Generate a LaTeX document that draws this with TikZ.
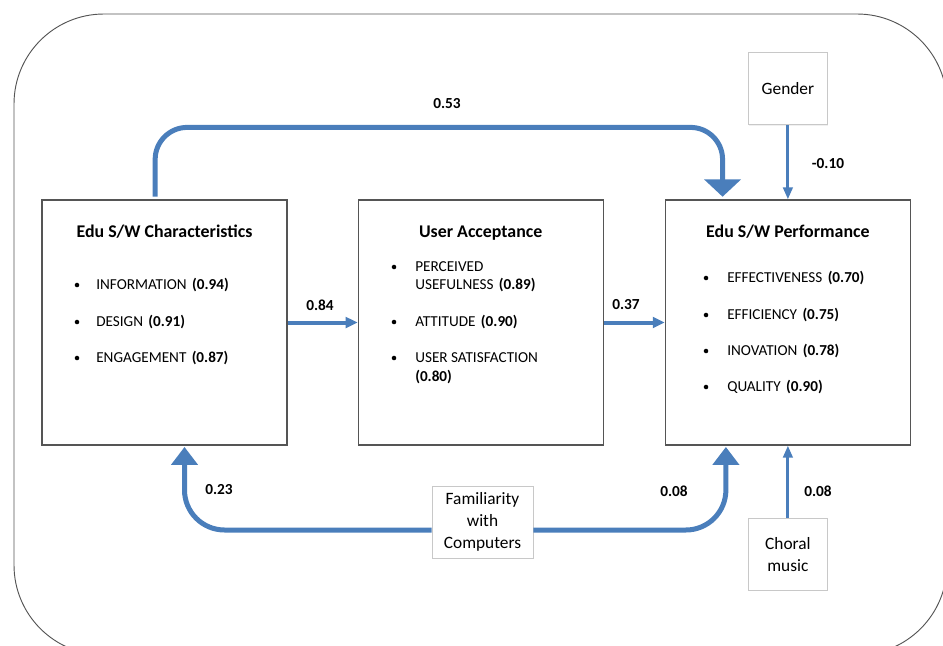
\documentclass[tikz,border=0pt]{standalone}
\usepackage{fontspec}
\setmainfont{Carlito}
\usetikzlibrary{arrows.meta,positioning,shadows}
\definecolor{flow}{RGB}{74,126,187}
\definecolor{framegray}{RGB}{85,85,85}
\definecolor{lightframe}{RGB}{200,200,200}
\tikzset{
    construct/.style={
        rectangle,
        draw=framegray,
        fill=white,
        line width=0.9pt,
        minimum width=183.75pt,
        minimum height=183.75pt,
        inner sep=0pt,
        drop shadow={shadow xshift=0.8pt, shadow yshift=-0.8pt, opacity=0.15}
    },
    covariate/.style={
        rectangle,
        draw=lightframe,
        fill=white,
        line width=0.7pt,
        minimum width=59.25pt,
        minimum height=54pt,
        align=center,
        font=\fontsize{13}{16.5}\selectfont,
        drop shadow={shadow xshift=0.8pt, shadow yshift=-0.8pt, opacity=0.12}
    },
    heading/.style={
        anchor=base,
        font=\fontsize{13.4}{16}\selectfont\bfseries
    },
    indicator/.style={
        anchor=west,
        inner sep=0pt,
        font=\fontsize{11.4}{13.5}\selectfont
    },
    coef/.style={
        font=\fontsize{11.5}{14}\selectfont\bfseries
    },
    bigflow/.style={
        draw=flow,
        line width=3.75pt,
        -{Triangle[width=27pt,length=13pt]},
        rounded corners=24pt,
        shorten >=2pt
    },
    lowflow/.style={
        draw=flow,
        line width=3.75pt,
        -{Triangle[width=19.5pt,length=13.5pt]},
        rounded corners=30pt,
        shorten >=1pt
    },
    midflow/.style={
        draw=flow,
        line width=3pt,
        -{Triangle[width=8pt,length=9pt]}
    },
    thinflow/.style={
        draw=flow,
        line width=2.25pt,
        -{Triangle[width=7pt,length=9pt]}
    }
}
\begin{document}
\begin{tikzpicture}[x=0.75pt, y=-0.75pt]
    \useasboundingbox (0,0) rectangle (943,646);
    % outer frame
    \begin{scope}
        \clip (0,0) rectangle (943,646);
        \draw[framegray, line width=0.7pt, rounded corners=67.5pt] (14,14) rectangle (947,655);
    \end{scope}

    % constructs
    \node[construct] (chars) at (164.5,322.5) {};
    \node[construct, right=52.5pt of chars] (accept) {};
    \node[construct, right=45.75pt of accept] (perf) {};
    \node[covariate, above=55.5pt of perf] (gender) {Gender};
    \node[covariate, below=54pt of perf] (choral) {Choral\\music};
    \node[covariate, minimum width=75.75pt] (famil) at (482.5,522) {Familiarity\\with\\Computers};

    % headings
    \node[heading] (chars-head) at ([yshift=-28.5pt]chars.north) {Edu S/W Characteristics};
    \node[heading] (accept-head) at ([yshift=-28.5pt]accept.north) {User Acceptance};
    \node[heading] (perf-head) at ([yshift=-28.5pt]perf.north) {Edu S/W Performance};

    % indicators
    \foreach \y/\name/\val in {285/INFORMATION/0.94, 322/DESIGN/0.91, 358/ENGAGEMENT/0.87} {
        \fill (77,\y) circle (1.7pt);
        \node[indicator] (chars-\val) at (96,\y) {\name\hspace{4pt}\textbf{(\val)}};
    }
    \fill (394,267) circle (1.7pt);
    \node[indicator] (pu1) at (415,267) {PERCEIVED};
    \node[indicator] (pu2) at (415,285) {USEFULNESS\hspace{4pt}\textbf{(0.89)}};
    \fill (394,322) circle (1.7pt);
    \node[indicator] (att) at (415,322) {ATTITUDE\hspace{4pt}\textbf{(0.90)}};
    \fill (394,358) circle (1.7pt);
    \node[indicator] (us1) at (415,358) {USER SATISFACTION};
    \node[indicator] (us2) at (415,377) {\textbf{(0.80)}};
    \foreach \y/\name/\val in {278/EFFECTIVENESS/0.70, 315/EFFICIENCY/0.75, 351/INOVATION/0.78, 387/QUALITY/0.90} {
        \fill (706,\y) circle (1.7pt);
        \node[indicator] (perf-\val) at (727,\y) {\name\hspace{4pt}\textbf{(\val)}};
    }

    % paths
    \draw[midflow] (chars) -- (accept);
    \draw[midflow] (accept) -- (perf);
    \draw[bigflow, shorten <=2pt] ([xshift=-7pt]chars.north) -- ++(0,-72) -| ([xshift=-49pt]perf.north);
    \draw[thinflow] (gender.south) -- (gender.south |- perf.north);
    \draw[thinflow] (choral.north) -- (choral.north |- perf.south);
    \draw[lowflow] ([yshift=-6pt]famil.west) -| ([xshift=15pt]chars.south);
    \draw[lowflow] ([yshift=-6pt]famil.east) -| ([xshift=-46.5pt]perf.south);

    % coefficients
    \node[coef] (c-top) at (447,104) {0.53};
    \node[coef] (c-gender) at (828,164) {-0.10};
    \node[coef] (c-ua) at (320,305) {0.84};
    \node[coef] (c-perf) at (626,305) {0.37};
    \node[coef] (c-fam1) at (219,490) {0.23};
    \node[coef] (c-fam2) at (674,491) {0.08};
    \node[coef] (c-choral) at (818,491) {0.08};
\end{tikzpicture}
\end{document}
